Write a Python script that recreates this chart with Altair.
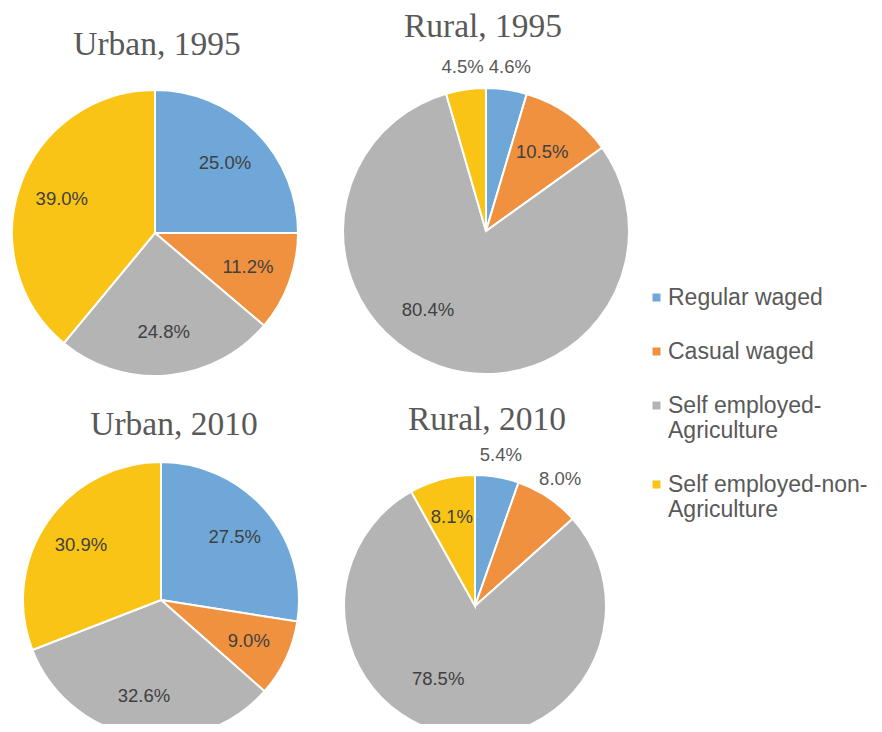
import altair as alt
import pandas as pd

# ---- data ----
panels = ["Urban, 1995", "Rural, 1995", "Urban, 2010", "Rural, 2010"]
categories = [
    "Regular waged",
    "Casual waged",
    "Self employed-Agriculture",
    "Self employed-non-Agriculture",
]
urban_1995 = [25.0, 11.2, 24.8, 39.0]
rural_1995 = [4.6, 10.5, 80.4, 4.5]
urban_2010 = [27.5, 9.0, 32.6, 30.9]
rural_2010 = [5.4, 8.0, 78.5, 8.1]
series = [urban_1995, rural_1995, urban_2010, rural_2010]

# labels that Excel placed outside the slice
outside_labels = [
    ("Rural, 1995", "Regular waged"),
    ("Rural, 1995", "Self employed-non-Agriculture"),
    ("Rural, 2010", "Regular waged"),
    ("Rural, 2010", "Casual waged"),
]
# large-slice labels that Excel nudged off the slice's middle angle
shifted_labels = [
    ("Rural, 1995", "Self employed-Agriculture"),
    ("Rural, 2010", "Self employed-Agriculture"),
]

colors = ["#6FA8D8", "#F0913F", "#B4B4B4", "#FAC417"]

rows = []
for p, vals in zip(panels, series):
    for i, (c, v) in enumerate(zip(categories, vals)):
        lab = f"{v:.1f}%"
        out = (p, c) in outside_labels
        sh = (p, c) in shifted_labels
        rows.append({"panel": p, "category": c, "idx": i, "value": v,
                     "label_in": "" if (out or sh) else lab,
                     "label_out": lab if out else "",
                     "label_sh": lab if sh else ""})
df = pd.DataFrame(rows)

# ---- layout (chart coordinates) ----
layout = {
    "Urban, 1995": dict(cx=147, cy=225, r=143, rin=99, rout=166, rsh=98, tx=149, ty=37),
    "Rural, 1995": dict(cx=478, cy=223, r=143, rin=97, rout=166, rsh=98, tx=475, ty=19),
    "Urban, 2010": dict(cx=153, cy=592, r=138, rin=97, rout=160, rsh=98, tx=166, ty=417),
    "Rural, 2010": dict(cx=467, cy=598, r=131, rin=92, rout=153, rsh=82, tx=479, ty=412),
}

legend = alt.Legend(
    orient="none", legendX=637, legendY=278, title=None,
    labelFont="Liberation Sans", labelFontSize=23, labelColor="#595959",
    symbolType="square", symbolSize=64, symbolStrokeWidth=0,
    rowPadding=30, padding=0, labelLimit=400, labelOffset=0,
    labelExpr="split(replace(datum.label, '-Agriculture', '-|Agriculture'), '|')",
)
color = alt.Color("category:N",
                  scale=alt.Scale(domain=categories, range=colors),
                  legend=legend)
theta = alt.Theta("value:Q", stack=True, scale=alt.Scale(domain=[0, 100]))
order = alt.Order("idx:Q")
label_style = dict(font="Liberation Sans", fontSize=18.5)

layers = []
for p in panels:
    L = layout[p]
    base = alt.Chart(df).transform_filter(alt.datum.panel == p)
    layers.append(
        base.mark_arc(x=L["cx"], y=L["cy"], outerRadius=L["r"],
                      stroke="white", strokeWidth=2)
        .encode(theta=theta, color=color, order=order)
    )
    layers.append(
        base.mark_text(x=L["cx"], y=L["cy"], radius=L["rin"],
                       color="#404040", **label_style)
        .encode(theta=theta, text="label_in:N", order=order)
    )
    layers.append(
        base.mark_text(x=L["cx"], y=L["cy"], radius=L["rsh"], thetaOffset=0.3,
                       color="#404040", **label_style)
        .encode(theta=theta, text="label_sh:N", order=order)
    )
    layers.append(
        base.mark_text(x=L["cx"], y=L["cy"], radius=L["rout"],
                       color="#595959", **label_style)
        .encode(theta=theta, text="label_out:N", order=order)
    )
    layers.append(
        alt.Chart(pd.DataFrame({"title": [p]}))
        .mark_text(x=L["tx"], y=L["ty"], font="Liberation Serif",
                   fontSize=33.5, color="#595959", baseline="middle")
        .encode(text="title:N")
    )

chart = (
    alt.layer(*layers)
    .properties(width=866, height=716, padding=0,
                autosize=alt.AutoSizeParams(type="none"))
    .configure_view(stroke=None)
)

chart.save("out.html", embed_options={"renderer": "svg", "actions": False})
